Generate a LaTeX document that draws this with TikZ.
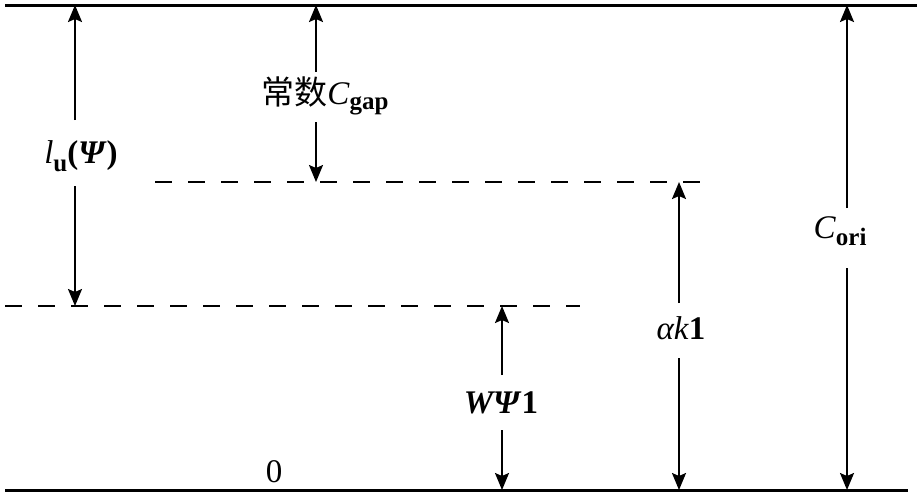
\documentclass[tikz,border=0pt]{standalone}
\usepackage{fontspec}
\setmainfont{Liberation Serif}
\newfontfamily\cjkfont{Noto Sans CJK SC}
\usetikzlibrary{arrows.meta}
\newcommand{\mysub}[2][2.5pt]{\raisebox{-#1}{\fontsize{12.5}{12.5}\selectfont\bfseries #2}}
\begin{document}
\begin{tikzpicture}[x=0.5pt,y=-0.5pt,
  baseline/.style={line width=1.5pt},
  guide/.style={line width=1pt, dash pattern=on 8.5pt off 8pt},
  dim/.style={line width=1pt, -{Stealth[length=8.5pt,width=7pt,inset=1.5pt]}},
  lab/.style={inner sep=0pt, anchor=base, font=\fontsize{16.5}{19}\selectfont}]
\useasboundingbox (0,0) rectangle (919,494);

% level lines
\coordinate (TL) at (5,5);
\coordinate (TR) at (917,5);
\coordinate (BL) at (5,490);
\coordinate (BR) at (908,490);
\coordinate (U1) at (155,182);
\coordinate (U2) at (705,182);
\coordinate (L1) at (5,306);
\coordinate (L2) at (580,306);
\draw[baseline] (TL) -- (TR);
\draw[baseline] (BL) -- (BR);
\draw[guide] (U1) -- (U2);
\draw[guide] (L1) -- (L2);

% dimension end points
\coordinate (luT) at (75,5);   \coordinate (luA) at (75,120);
\coordinate (luB) at (75,186); \coordinate (luE) at (75,306);
\coordinate (cgT) at (316,5);  \coordinate (cgA) at (316,72);
\coordinate (cgB) at (316,122);\coordinate (cgE) at (316,182);
\coordinate (wpT) at (502,306);\coordinate (wpA) at (502,375);
\coordinate (wpB) at (502,430);\coordinate (wpE) at (502,490);
\coordinate (akT) at (679,182);\coordinate (akA) at (679,303);
\coordinate (akB) at (679,358);\coordinate (akE) at (679,490);
\coordinate (coT) at (847,5);  \coordinate (coA) at (847,208);
\coordinate (coB) at (847,268);\coordinate (coE) at (847,490);

\draw[dim] (luA) -- (luT);  \draw[dim] (luB) -- (luE);
\draw[dim] (cgA) -- (cgT);  \draw[dim] (cgB) -- (cgE);
\draw[dim] (wpA) -- (wpT);  \draw[dim] (wpB) -- (wpE);
\draw[dim] (akA) -- (akT);  \draw[dim] (akB) -- (akE);
\draw[dim] (coA) -- (coT);  \draw[dim] (coB) -- (coE);

% labels
\node[lab] (lu) at (81,163) {\textit{l}\mysub[4pt]{u}\textbf{(\textit{Ψ})}};
\node[lab] (cg) at (325,104) {{\cjkfont 常数}\textit{C}\mysub[2.5pt]{gap}};
\node[lab] (wp) at (501,413) {\textbf{\textit{WΨ}1}};
\node[lab] (ak) at (681,339) {\textit{αk}\textbf{1}};
\node[lab] (co) at (840,238) {\textit{C}\mysub[3.5pt]{ori}};
\node[lab] (zero) at (274,482) {0};
\end{tikzpicture}
\end{document}
